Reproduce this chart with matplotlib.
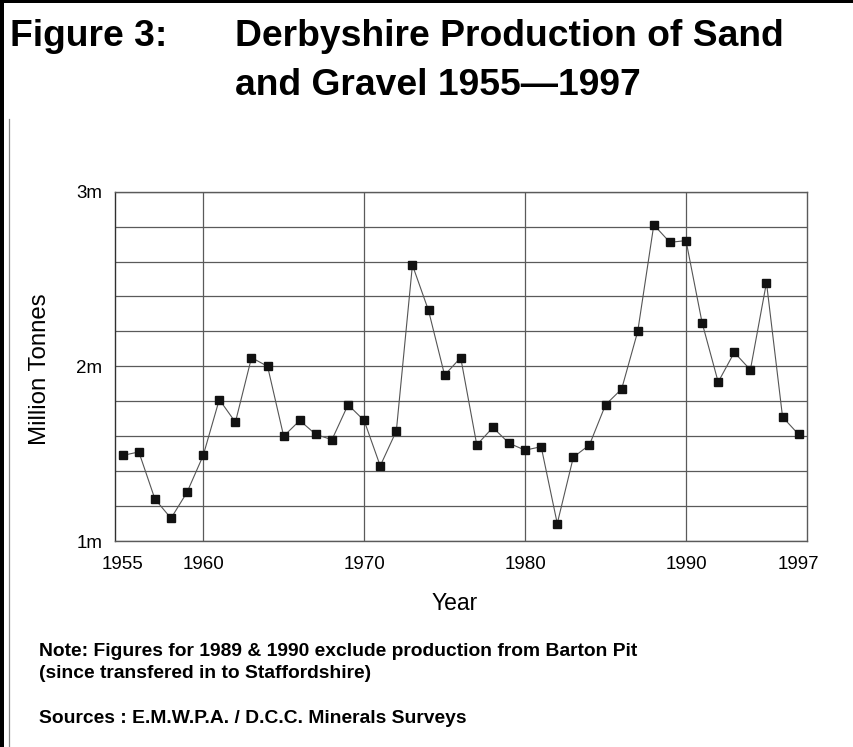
import matplotlib
matplotlib.use("Agg")
import matplotlib.pyplot as plt
from matplotlib.lines import Line2D
from matplotlib.patches import Rectangle

plt.rcParams['font.family'] = ['Liberation Sans', 'DejaVu Sans']

years = list(range(1955, 1998))
production = [1.49, 1.51, 1.24, 1.13, 1.28, 1.49, 1.81, 1.68, 2.05, 2.00,
              1.60, 1.69, 1.61, 1.58, 1.78, 1.69, 1.43, 1.63, 2.58, 2.32,
              1.95, 2.05, 1.55, 1.65, 1.56, 1.52, 1.54, 1.10, 1.48, 1.55,
              1.78, 1.87, 2.20, 2.81, 2.71, 2.72, 2.25, 1.91, 2.08, 1.98,
              2.48, 1.71, 1.61]
x_ticks = [1955, 1960, 1970, 1980, 1990, 1997]
y_ticks = [1.0, 2.0, 3.0]
y_tick_labels = ['1m', '2m', '3m']
y_minor = [1.2, 1.4, 1.6, 1.8, 2.2, 2.4, 2.6, 2.8]

W, H = 854, 747
fig = plt.figure(figsize=(W / 100, H / 100), dpi=100)

def fx(px):
    return px / W

def fy(py):
    return 1 - py / H

ax = fig.add_axes([fx(114.7), fy(541), fx(806.7) - fx(114.7), fy(191.7) - fy(541)])
ax.set_xlim(1954.5, 1997.5)
ax.set_ylim(1.0, 3.0)

grid_col = '#5a5a5a'
ax.set_xticks(x_ticks)
ax.set_xticklabels([str(t) for t in x_ticks])
ax.set_yticks(y_ticks)
ax.set_yticklabels(y_tick_labels)
ax.set_yticks(y_minor, minor=True)
ax.grid(True, which='both', color=grid_col, linewidth=0.9)
gl = ax.get_xgridlines()
gl[0].set_visible(False)
gl[-1].set_visible(False)
ax.set_axisbelow(True)
ax.tick_params(axis='both', which='both', length=0, labelsize=13.5)
ax.tick_params(axis='x', pad=10.5)
ax.tick_params(axis='y', pad=9)
for s in ax.spines.values():
    s.set_color(grid_col)
    s.set_linewidth(1.0)
ax.spines['left'].set_color('#303030')

ax.plot(years, production, color='#555555', linewidth=0.8, marker='s',
        markersize=5.2, markerfacecolor='#111111', markeredgecolor='#111111',
        clip_on=False, zorder=3)

fig.text(fx(40), fy(369), 'Million Tonnes', fontsize=17.3, rotation=90,
         ha='center', va='center')
fig.text(fx(455), fy(603), 'Year', fontsize=16.5, ha='center', va='center')

# Title
fig.text(fx(10), fy(46), 'Figure 3:', fontsize=26.8, fontweight='bold',
         ha='left', va='baseline')
fig.text(fx(235), fy(46), 'Derbyshire Production of Sand', fontsize=26.8,
         fontweight='bold', ha='left', va='baseline')
fig.text(fx(235), fy(95), 'and Gravel 1955\u20141997', fontsize=26.8,
         fontweight='bold', ha='left', va='baseline')

# Notes
note_fs = 13.9
fig.text(fx(39), fy(656), 'Note: Figures for 1989 & 1990 exclude production from Barton Pit',
         fontsize=note_fs, fontweight='bold', ha='left', va='baseline')
fig.text(fx(39), fy(678), '(since transfered in to Staffordshire)',
         fontsize=note_fs, fontweight='bold', ha='left', va='baseline')
fig.text(fx(39), fy(723), 'Sources : E.M.W.P.A. / D.C.C. Minerals Surveys',
         fontsize=note_fs, fontweight='bold', ha='left', va='baseline')

# Page borders
fig.add_artist(Rectangle((0, 0), fx(4), 1, transform=fig.transFigure,
                         facecolor='black', edgecolor='none'))
fig.add_artist(Rectangle((0, fy(3)), 1, fy(0) - fy(3), transform=fig.transFigure,
                         facecolor='black', edgecolor='none'))
fig.add_artist(Line2D([fx(8.5), fx(8.5)], [0, fy(119)], transform=fig.transFigure,
                      color='#888888', linewidth=0.9))

fig.savefig('out.png', dpi=100)
